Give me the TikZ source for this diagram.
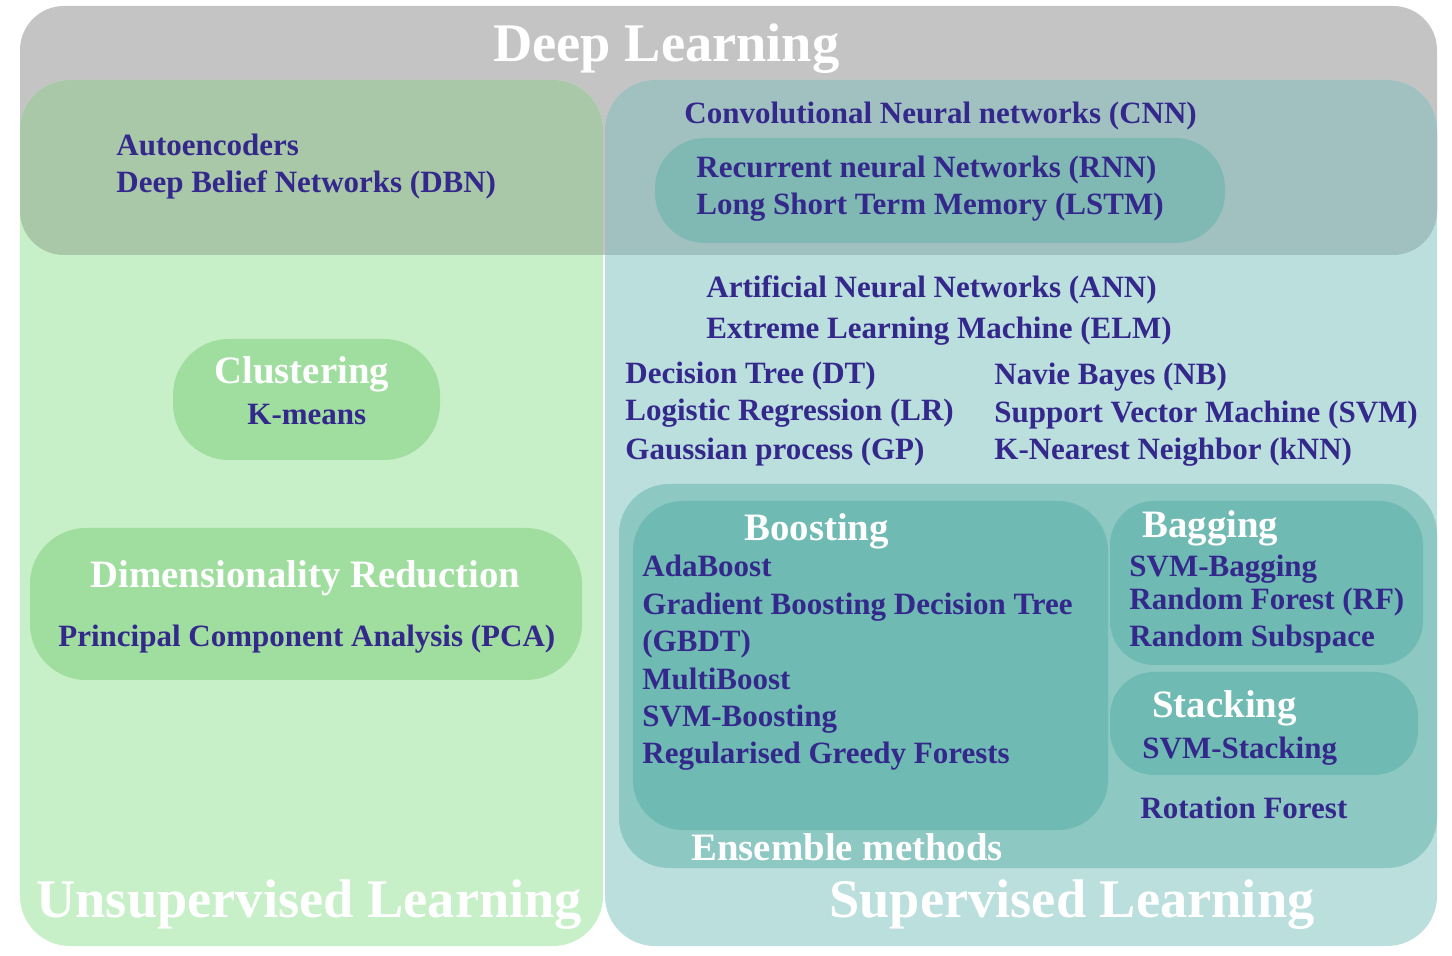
\documentclass[tikz,border=0pt]{standalone}
\usepackage{fontspec}
\setmainfont{Liberation Serif}

\definecolor{dlgray}{RGB}{196,196,196}
\definecolor{ulgreen}{RGB}{200,240,200}
\definecolor{uldark}{RGB}{168,200,168}
\definecolor{ulbox}{RGB}{160,222,160}
\definecolor{slteal}{RGB}{186,223,221}
\definecolor{sldark}{RGB}{161,193,192}
\definecolor{rnnbox}{RGB}{128,185,179}
\definecolor{ensbox}{RGB}{141,200,194}
\definecolor{subbox}{RGB}{111,186,178}
\definecolor{itemblue}{RGB}{52,40,140}

\begin{document}
\begin{tikzpicture}[x=0.5pt,y=-0.5pt,
  item/.style={anchor=base west,inner sep=0pt,text=itemblue,
    font=\fontsize{15.5}{18}\selectfont\bfseries},
  head/.style={anchor=base west,inner sep=0pt,text=white,
    font=\fontsize{19.4}{22}\selectfont\bfseries},
  bigtitle/.style={anchor=base west,inner sep=0pt,text=white,
    font=\fontsize{27.2}{30}\selectfont\bfseries}]
\useasboundingbox (0,0) rectangle (1452,956);

% areas
\fill[dlgray,rounded corners=22pt] (20,6) rectangle (1437,255);
\fill[ulgreen,rounded corners=25pt] (20,80) rectangle (603,946);
\fill[slteal,rounded corners=25pt] (605,80) rectangle (1437,946);
\begin{scope}
  \clip[rounded corners=22pt] (20,6) rectangle (1437,255);
  \fill[uldark,rounded corners=25pt] (20,80) rectangle (603,946);
  \fill[sldark,rounded corners=25pt] (605,80) rectangle (1437,946);
\end{scope}

% inner boxes
\fill[ulbox,rounded corners=28pt] (173,339) rectangle (440,460);
\fill[ulbox,rounded corners=28pt] (30,528) rectangle (582,680);
\fill[rnnbox,rounded corners=25pt] (655,138) rectangle (1225,243);
\fill[ensbox,rounded corners=25pt] (619,484) rectangle (1437,868);
\fill[subbox,rounded corners=25pt] (633,501) rectangle (1108,830);
\fill[subbox,rounded corners=22pt] (1110,501) rectangle (1423,665);
\fill[subbox,rounded corners=22pt] (1110,672) rectangle (1418,775);

% titles
\node[bigtitle] (deep) at (493,62) {Deep Learning};
\node[bigtitle] (unsup) at (36,917) {Unsupervised Learning};
\node[bigtitle] (sup) at (829,917) {Supervised Learning};

% deep learning
\node[item] (auto) at (116,156) {Autoencoders};
\node[item] (dbn) at (116,193) {Deep Belief Networks (DBN)};
\node[item] (cnn) at (684,124) {Convolutional Neural networks (CNN)};
\node[item] (rnn) at (696,178) {Recurrent neural Networks (RNN)};
\node[item] (lstm) at (696,215) {Long Short Term Memory (LSTM)};

% unsupervised
\node[head] (clust) at (214,384) {Clustering};
\node[item] (kmeans) at (247,425) {K-means};
\node[head] (dimred) at (90,588) {Dimensionality Reduction};
\node[item] (pca) at (58,647) {Principal Component Analysis (PCA)};

% supervised
\node[item] (ann) at (706,298) {Artificial Neural Networks (ANN)};
\node[item] (elm) at (706,339) {Extreme Learning Machine (ELM)};
\node[item] (dt) at (625,384) {Decision Tree (DT)};
\node[item] (lr) at (625,421) {Logistic Regression (LR)};
\node[item] (gp) at (625,460) {Gaussian process (GP)};
\node[item] (nb) at (994,385) {Navie Bayes (NB)};
\node[item] (svm) at (994,423) {Support Vector Machine (SVM)};
\node[item] (knn) at (994,460) {K-Nearest Neighbor (kNN)};

% ensemble methods
\node[head] (boost) at (744,541) {Boosting};
\foreach \t [count=\i] in {AdaBoost,Gradient Boosting Decision Tree,(GBDT),
    MultiBoost,SVM-Boosting,Regularised Greedy Forests}
  \node[item] (boost-\i) at (642,577+37.4*\i-37.4) {\t};
\node[head] (bag) at (1142,538) {Bagging};
\node[item] (svmbag) at (1129,577) {SVM-Bagging};
\node[item] (rf) at (1129,610) {Random Forest (RF)};
\node[item] (rsub) at (1129,647) {Random Subspace};
\node[head] (stack) at (1152,718) {Stacking};
\node[item] (svmstack) at (1142,759) {SVM-Stacking};
\node[item] (rotf) at (1140,819) {Rotation Forest};
\node[head] (ens) at (691,860) {Ensemble methods};
\end{tikzpicture}
\end{document}
